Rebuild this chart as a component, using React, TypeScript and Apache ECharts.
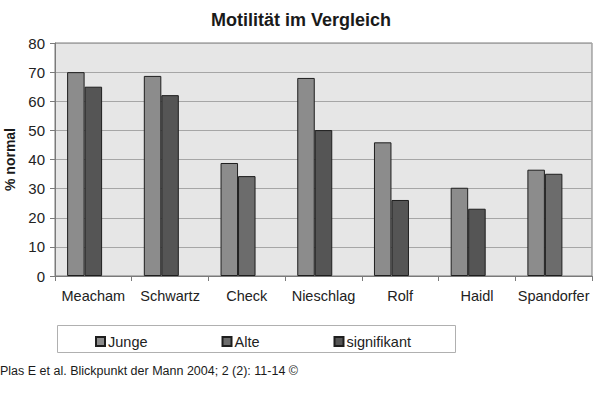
import React, { useEffect, useRef } from "react";
import * as echarts from "echarts";

const categories = ["Meacham", "Schwartz", "Check", "Nieschlag", "Rolf", "Haidl", "Spandorfer"];
const junge = [70, 68.7, 38.8, 68, 45.9, 30.3, 36.5];
const alte: (number | string)[] = ["-", "-", 34.3, "-", "-", "-", 35.1];
const signifikant: (number | string)[] = [65, 62.1, "-", 50.1, 26.1, 23.1, "-"];
// empty third slot per category (as in the original Excel layout)
const emptySlot: string[] = ["-", "-", "-", "-", "-", "-", "-"];
const yTicks = { min: 0, max: 80, interval: 10 };
const titleText = "Motilität im Vergleich";
const yName = "% normal";
const citation = "Plas E et al. Blickpunkt der Mann 2004; 2 (2): 11-14 ©";

const FONT = "'Liberation Sans', Arial, sans-serif";

export default function App() {
  const ref = useRef<HTMLDivElement>(null);
  useEffect(() => {
    document.body.style.margin = "0";
    const chart = echarts.init(ref.current!, null, { renderer: "svg" });
    const barBase = {
      type: "bar" as const,
      barWidth: 17.5,
      barGap: "0%",
    };
    chart.setOption({
      animation: false,
      backgroundColor: "#ffffff",
      textStyle: { fontFamily: FONT },
      title: {
        text: titleText,
        left: 206,
        top: 6,
        textStyle: { fontFamily: FONT, fontSize: 18, fontWeight: "bold", color: "#1a1a1a" },
      },
      grid: {
        left: 55,
        right: 8,
        top: 43,
        bottom: 144,
        containLabel: false,
        outerBoundsMode: "none",
        show: true,
        backgroundColor: "#e6e6e6",
        borderColor: "#7a7a7a",
        borderWidth: 1,
      },
      legend: {
        data: ["Junge", "Alte", "signifikant"],
        left: 90,
        top: 329,
        itemWidth: 9,
        itemHeight: 9,
        itemGap: 74,
        icon: "rect",
        textStyle: { fontFamily: FONT, fontSize: 14.5, color: "#222", padding: [0, 0, 0, -2] },
      },
      graphic: [
        {
          type: "rect",
          left: 55,
          top: 323,
          shape: { width: 398, height: 27 },
          style: { fill: "none", stroke: "#b0b0b0", lineWidth: 1 },
          silent: true,
        },
        {
          type: "text",
          left: 0,
          top: 364,
          style: { text: citation, font: `12.5px ${FONT}`, fill: "#1a1a1a" },
        },
      ],
      xAxis: {
        type: "category",
        data: categories,
        boundaryGap: true,
        axisLine: { lineStyle: { color: "#7a7a7a" } },
        axisTick: { show: true, length: 5, lineStyle: { color: "#7a7a7a" } },
        axisLabel: { interval: 0, fontFamily: FONT, fontSize: 14.5, color: "#222", margin: 12 },
      },
      yAxis: {
        type: "value",
        min: yTicks.min,
        max: yTicks.max,
        interval: yTicks.interval,
        name: yName,
        nameLocation: "middle",
        nameGap: 36,
        nameTextStyle: { fontFamily: FONT, fontSize: 14, fontWeight: "bold", color: "#1a1a1a" },
        axisLine: { show: true, lineStyle: { color: "#7a7a7a" } },
        axisTick: { show: true, length: 5, lineStyle: { color: "#7a7a7a" } },
        axisLabel: { fontFamily: FONT, fontSize: 15, color: "#222", margin: 10 },
        splitLine: { show: true, lineStyle: { color: "#a6a6a6", width: 1 } },
      },
      series: [
        {
          ...barBase,
          name: "Junge",
          data: junge,
          itemStyle: { color: "#8c8c8c", borderColor: "#1e1e1e", borderWidth: 1 },
        },
        {
          ...barBase,
          name: "Alte",
          stack: "second",
          data: alte,
          itemStyle: { color: "#6c6c6c", borderColor: "#1e1e1e", borderWidth: 1 },
        },
        {
          ...barBase,
          name: "signifikant",
          stack: "second",
          data: signifikant,
          itemStyle: { color: "#555555", borderColor: "#1e1e1e", borderWidth: 1 },
        },
        {
          ...barBase,
          name: "pad",
          data: emptySlot,
        },
      ],
    });
    return () => chart.dispose();
  }, []);
  return <div ref={ref} style={{ position: "absolute", left: 0, top: 0, width: 600, height: 420 }} />;
}
